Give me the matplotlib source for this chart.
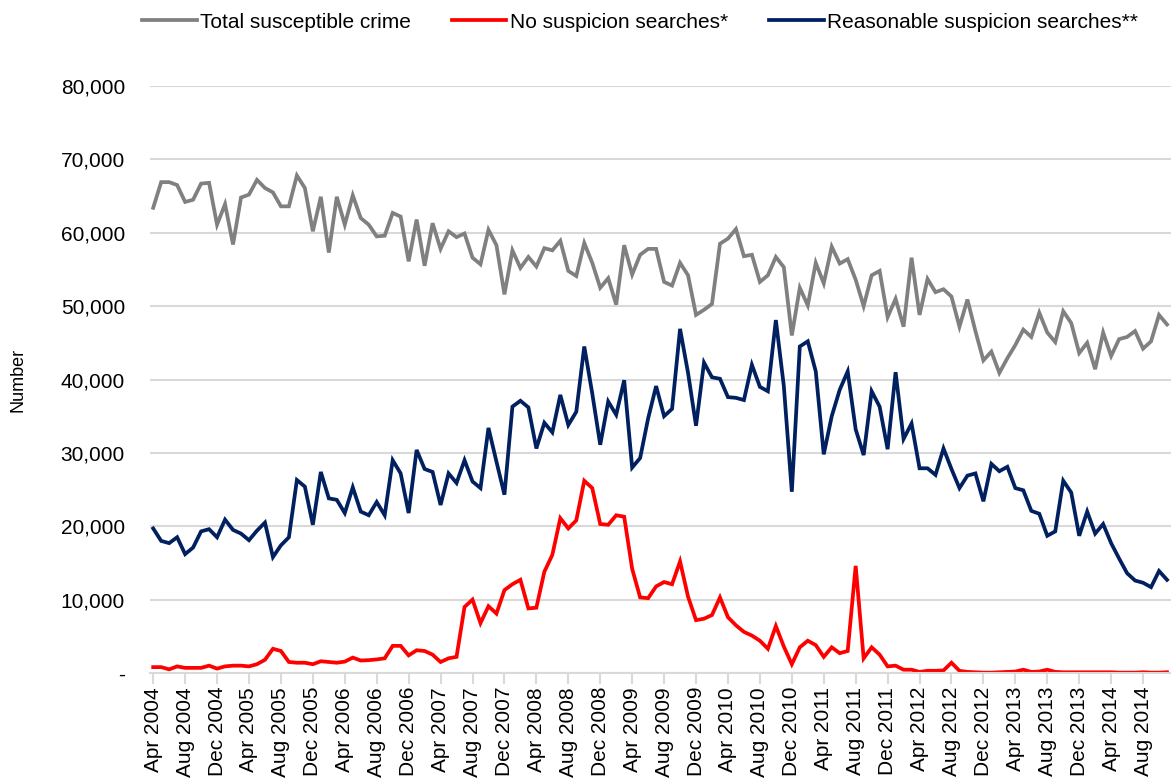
import numpy as np
import pandas as pd
import matplotlib
matplotlib.use("Agg")
import matplotlib.pyplot as plt

plt.rcParams['font.family'] = ['Liberation Sans', 'DejaVu Sans']

# -----------------------------
# data (thousands), monthly from Apr 2004
# -----------------------------
total_crime = [
    63.4, 66.9, 66.9, 66.5, 64.2, 64.5, 66.7, 66.8, 61.1, 63.9,
    58.4, 64.8, 65.2, 67.2, 66.1, 65.5, 63.6, 63.6, 67.8, 66.1,
    60.2, 64.9, 57.3, 64.9, 61.1, 65.1, 62.0, 61.1, 59.5, 59.6,
    62.7, 62.2, 56.1, 61.8, 55.5, 61.3, 57.8, 60.2, 59.4, 59.9,
    56.6, 55.7, 60.4, 58.3, 51.6, 57.6, 55.2, 56.7, 55.4, 57.9,
    57.6, 58.9, 54.8, 54.1, 58.6, 55.9, 52.5, 53.8, 50.2, 58.3,
    54.3, 57.0, 57.8, 57.8, 53.3, 52.8, 55.9, 54.2, 48.8, 49.5,
    50.3, 58.5, 59.2, 60.5, 56.8, 57.0, 53.3, 54.2, 56.7, 55.3,
    46.0, 52.5, 50.1, 55.9, 53.1, 58.1, 55.8, 56.4, 53.6, 50.0,
    54.2, 54.8, 48.5, 51.0, 47.2, 56.6, 48.8, 53.7, 51.9, 52.3,
    51.3, 47.2, 50.9, 46.6, 42.6, 43.8, 40.9, 42.9, 44.7, 46.8,
    45.8, 49.1, 46.4, 45.1, 49.3, 47.7, 43.6, 45.0, 41.4, 46.4,
    43.2, 45.5, 45.8, 46.6, 44.2, 45.2, 48.8, 47.5,
]
no_suspicion = [
    0.8, 0.8, 0.5, 0.9, 0.7, 0.7, 0.7, 1.0, 0.6, 0.9,
    1.0, 1.0, 0.9, 1.2, 1.8, 3.3, 3.0, 1.5, 1.4, 1.4,
    1.2, 1.6, 1.5, 1.4, 1.55, 2.1, 1.7, 1.75, 1.85, 2.0,
    3.7, 3.7, 2.4, 3.1, 3.0, 2.5, 1.5, 2.0, 2.2, 9.0,
    10.0, 6.8, 9.1, 8.1, 11.3, 12.1, 12.7, 8.8, 8.9, 13.8,
    16.1, 21.1, 19.7, 20.8, 26.2, 25.2, 20.3, 20.2, 21.5, 21.3,
    14.2, 10.3, 10.2, 11.8, 12.4, 12.1, 15.2, 10.4, 7.2, 7.4,
    7.9, 10.3, 7.6, 6.5, 5.6, 5.1, 4.4, 3.3, 6.4, 3.6,
    1.2, 3.5, 4.4, 3.8, 2.2, 3.5, 2.7, 3.0, 14.6, 2.0,
    3.5, 2.5, 0.9, 1.0, 0.45, 0.45, 0.15, 0.3, 0.3, 0.35,
    1.4, 0.3, 0.15, 0.1, 0.05, 0.05, 0.1, 0.15, 0.2, 0.45,
    0.15, 0.2, 0.45, 0.15, 0.1, 0.1, 0.1, 0.1, 0.1, 0.1,
    0.1, 0.05, 0.05, 0.05, 0.1, 0.05, 0.05, 0.1,
]
reasonable_suspicion = [
    19.7, 18.0, 17.7, 18.5, 16.2, 17.1, 19.3, 19.6, 18.5, 20.9,
    19.5, 19.0, 18.1, 19.4, 20.5, 15.8, 17.4, 18.5, 26.3, 25.4,
    20.2, 27.4, 23.8, 23.6, 21.8, 25.3, 22.0, 21.5, 23.3, 21.5,
    29.0, 27.2, 21.8, 30.4, 27.8, 27.4, 22.9, 27.2, 25.9, 29.0,
    26.1, 25.2, 33.4, 28.8, 24.3, 36.3, 37.1, 36.2, 30.6, 34.1,
    32.8, 37.9, 33.8, 35.6, 44.5, 38.1, 31.1, 37.0, 35.2, 39.9,
    28.0, 29.3, 34.7, 39.1, 35.0, 36.0, 46.9, 40.9, 33.7, 42.3,
    40.3, 40.1, 37.6, 37.5, 37.2, 42.0, 39.0, 38.4, 48.1, 39.1,
    24.7, 44.5, 45.2, 41.1, 29.8, 35.0, 38.6, 41.1, 33.2, 29.7,
    38.4, 36.3, 30.5, 41.0, 31.9, 34.0, 27.9, 27.9, 27.0, 30.6,
    27.8, 25.2, 26.9, 27.2, 23.4, 28.5, 27.5, 28.1, 25.2, 24.9,
    22.1, 21.7, 18.7, 19.3, 26.2, 24.6, 18.7, 22.0, 19.0, 20.3,
    17.7, 15.6, 13.6, 12.6, 12.3, 11.7, 13.9, 12.7,
]

months = pd.date_range("2004-04-01", periods=len(total_crime), freq="MS")
month_labels = [d.strftime("%b %Y") for d in months]
y_ticks = [0, 10000, 20000, 30000, 40000, 50000, 60000, 70000, 80000]

x = np.arange(len(months))
grid_col = "#d9d9d9"

fig = plt.figure(figsize=(11.71, 7.79), dpi=100)
ax = fig.add_axes([150 / 1171, 1 - 673 / 779, 1021 / 1171, 587 / 779])

ax.plot(x, np.array(total_crime) * 1000, color="#808080", lw=2.7,
        label="Total susceptible crime", solid_joinstyle="miter")
ax.plot(x, np.array(no_suspicion) * 1000, color="#ff0000", lw=2.7,
        label="No suspicion searches*", solid_joinstyle="miter")
ax.plot(x, np.array(reasonable_suspicion) * 1000, color="#002060", lw=2.7,
        label="Reasonable suspicion searches**", solid_joinstyle="miter")

ax.set_ylim(0, 80000)
ax.set_xlim(-0.4, 127.5)
ax.set_yticks(y_ticks)
ax.set_yticklabels(["-" if v == 0 else f"{v:,}" for v in y_ticks], fontsize=15)
ax.tick_params(axis="y", length=0, pad=18)
ax.yaxis.grid(True, color=grid_col, lw=1.5)
ax.set_axisbelow(True)

ax.set_xticks(x[::4])
ax.set_xticklabels(month_labels[::4], rotation=90, fontsize=15)
ax.tick_params(axis="x", length=8, width=1.5, color=grid_col, pad=2)

for s in ["top", "right", "left"]:
    ax.spines[s].set_visible(False)
ax.spines["bottom"].set_color(grid_col)
ax.spines["bottom"].set_linewidth(1.5)

fig.text(18 / 1171, 1 - 380 / 779, "Number", rotation=90, fontsize=13,
         ha="center", va="center")

fig.legend(loc="center", bbox_to_anchor=(640 / 1171, 1 - 22 / 779), ncol=3,
           frameon=False, fontsize=15, handlelength=2.6, handletextpad=0.15,
           columnspacing=2.0)

fig.savefig("out.png", dpi=100)
